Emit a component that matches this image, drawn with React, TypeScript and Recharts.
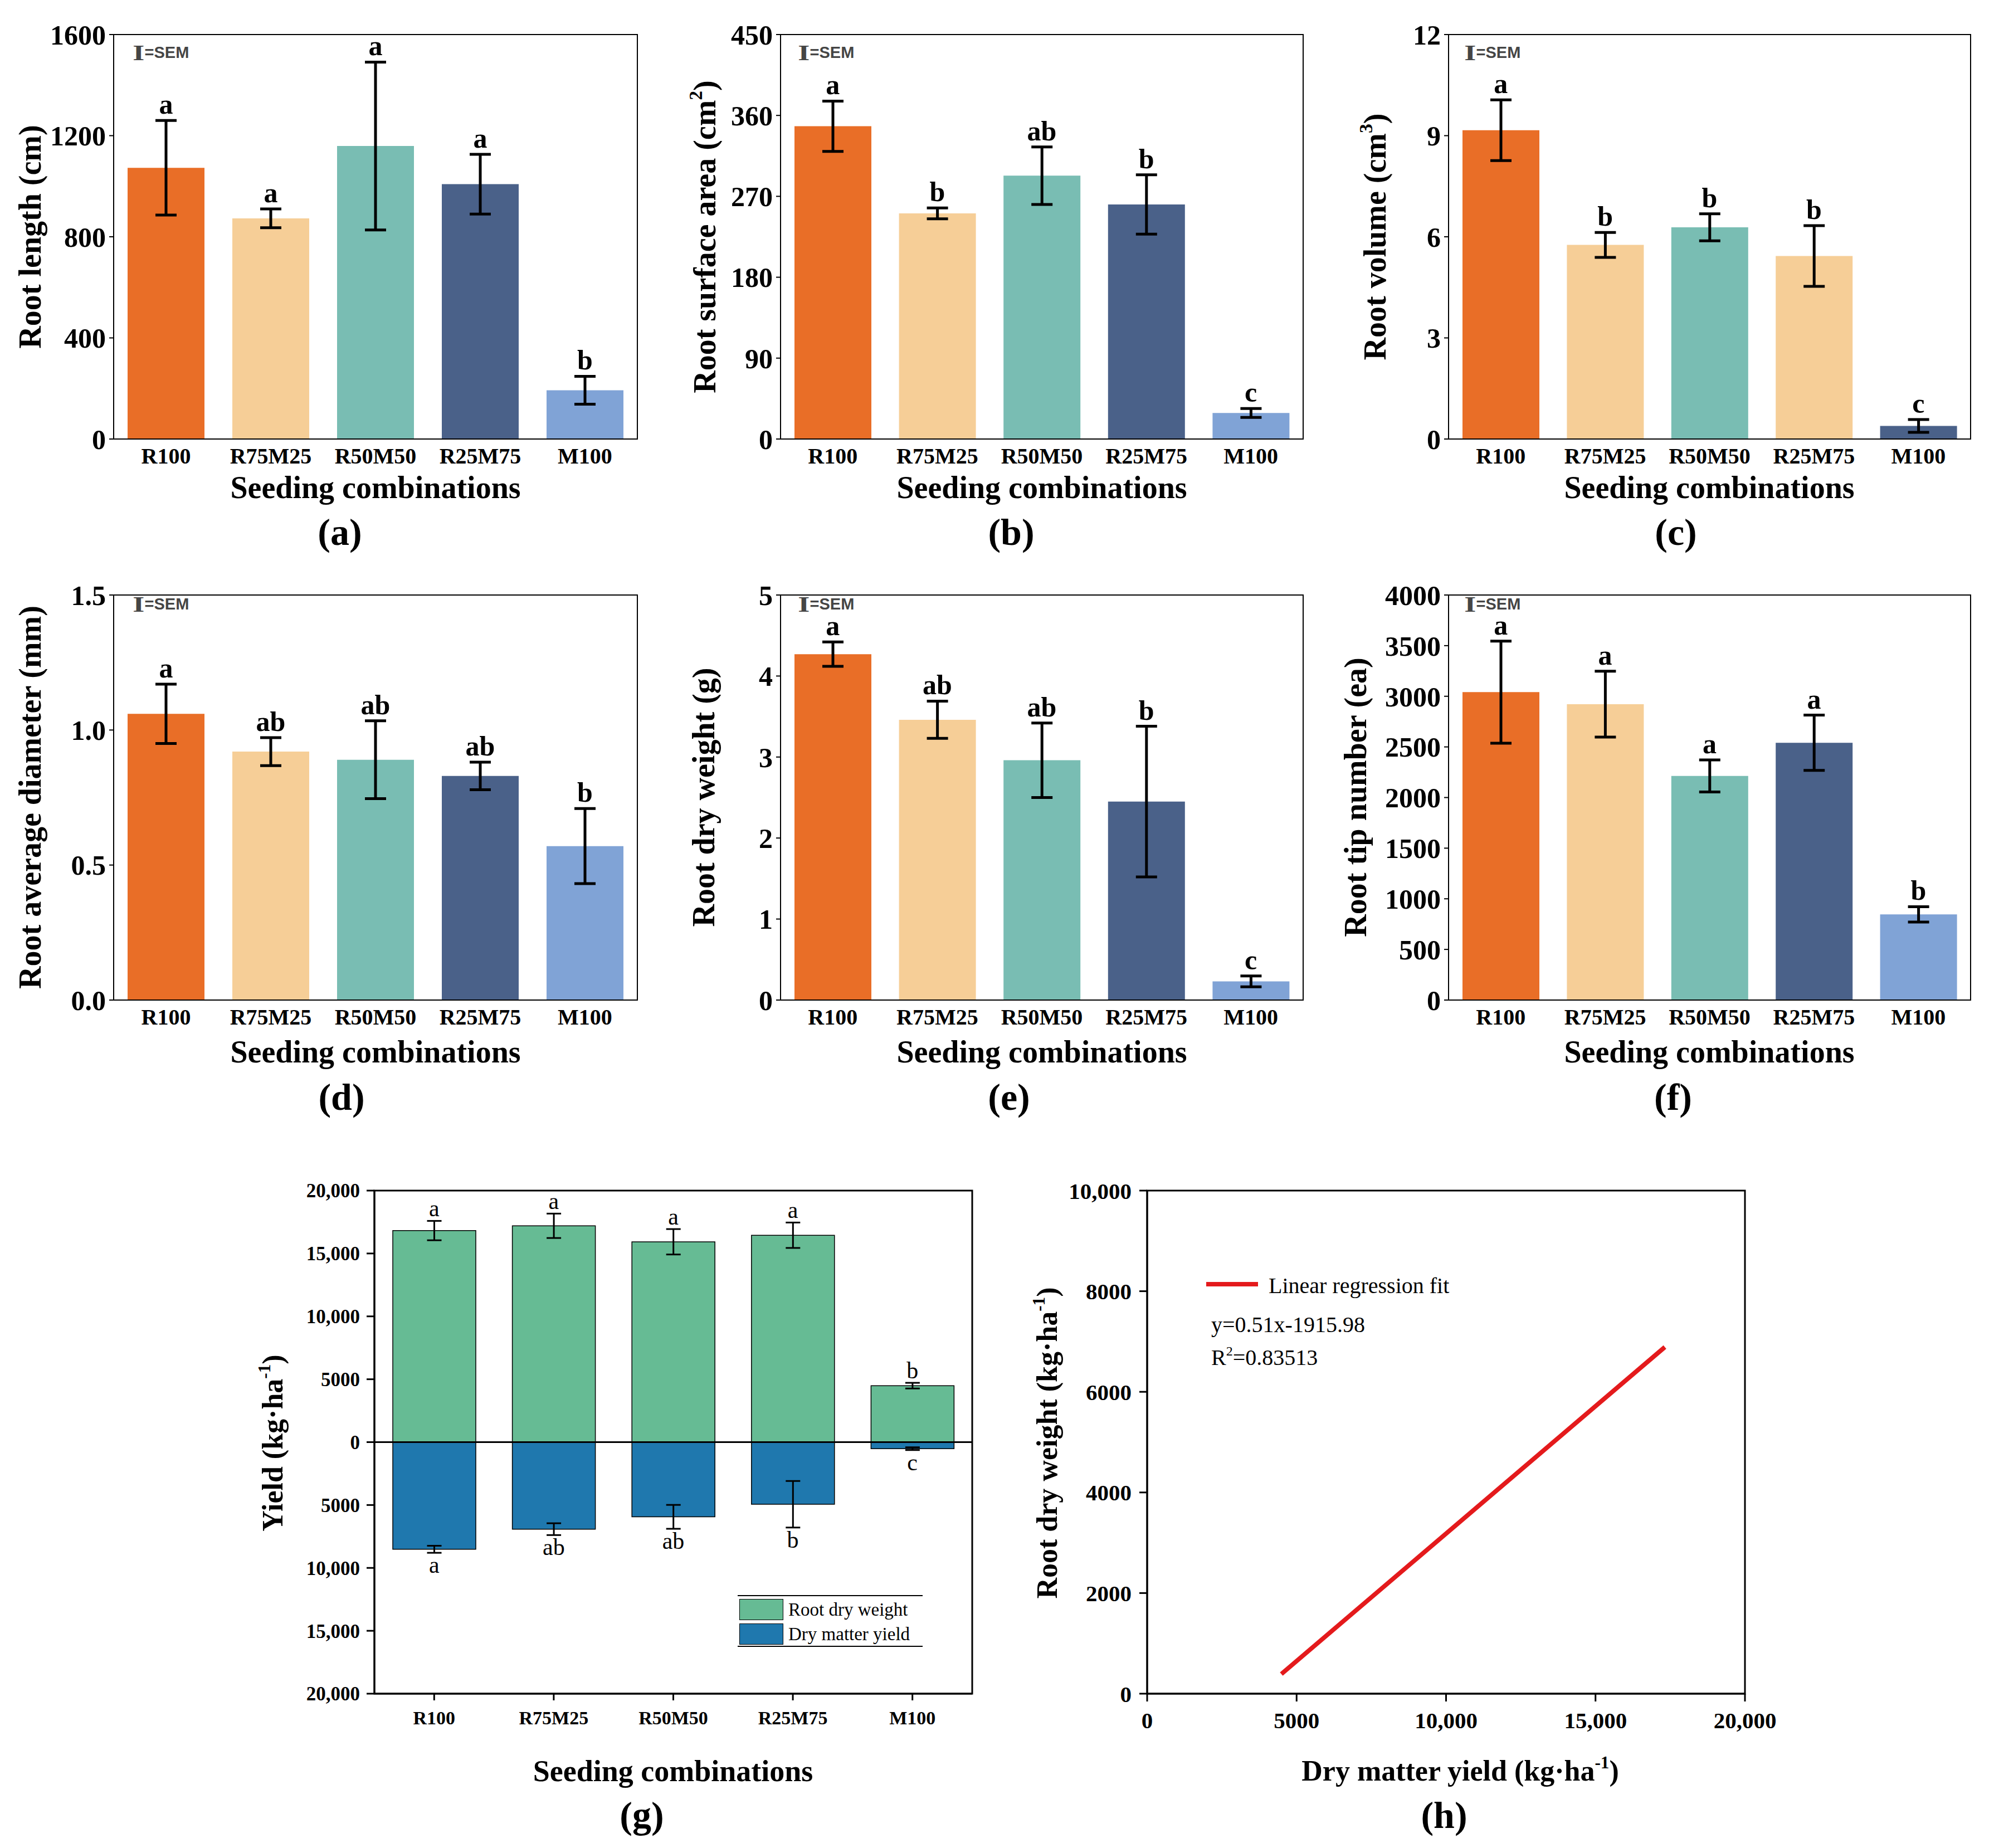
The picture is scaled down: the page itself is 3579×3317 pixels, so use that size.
import React from 'react';
import {
  ComposedChart,
  LineChart,
  Bar,
  Line,
  XAxis,
  YAxis,
  ErrorBar,
  Cell,
  LabelList,
  ReferenceArea,
  ReferenceLine,
} from 'recharts';

const SERIF = '"Liberation Serif", "Times New Roman", Times, serif';
const SANS = '"Liberation Sans", Arial, sans-serif';

// seeding combinations shared by every panel
const categories = ['R100', 'R75M25', 'R50M50', 'R25M75', 'M100'];

// (a) root length
const lengthMean = [1073, 873, 1159, 1008, 193];
const lengthSem = [187, 37, 332, 118, 55];
const lengthLetters = ['a', 'a', 'a', 'a', 'b'];
const lengthTicks = [0, 400, 800, 1200, 1600];

// (b) root surface area
const areaMean = [348, 251, 293, 261, 29];
const areaSem = [28, 6, 32, 33, 5];
const areaLetters = ['a', 'b', 'ab', 'b', 'c'];
const areaTicks = [0, 90, 180, 270, 360, 450];

// (c) root volume
const volumeMean = [9.16, 5.76, 6.28, 5.43, 0.39];
const volumeSem = [0.9, 0.37, 0.4, 0.9, 0.19];
const volumeLetters = ['a', 'b', 'b', 'b', 'c'];
const volumeTicks = [0, 3, 6, 9, 12];

// (d) root average diameter
const diameterMean = [1.06, 0.92, 0.89, 0.83, 0.57];
const diameterSem = [0.11, 0.052, 0.144, 0.051, 0.139];
const diameterLetters = ['a', 'ab', 'ab', 'ab', 'b'];
const diameterTicks = [0, 0.5, 1.0, 1.5];

// (e) root dry weight
const dryWeightMean = [4.27, 3.46, 2.96, 2.45, 0.23];
const dryWeightSem = [0.15, 0.23, 0.46, 0.93, 0.067];
const dryWeightLetters = ['a', 'ab', 'ab', 'b', 'c'];
const dryWeightTicks = [0, 1, 2, 3, 4, 5];

// (f) root tip number
const tipMean = [3041, 2922, 2213, 2541, 846];
const tipSem = [504, 325, 158, 273, 76];
const tipLetters = ['a', 'a', 'a', 'a', 'b'];
const tipTicks = [0, 500, 1000, 1500, 2000, 2500, 3000, 3500, 4000];

// (g) yield, up = root dry weight, down = dry matter yield
const yieldRoot = [16820, 17200, 15930, 16450, 4490];
const yieldRootSem = [770, 970, 1010, 1010, 225];
const yieldRootLetters = ['a', 'a', 'a', 'a', 'b'];
const yieldDm = [8520, 6920, 5940, 4940, 520];
const yieldDmSem = [280, 470, 950, 1850, 110];
const yieldDmLetters = ['a', 'ab', 'ab', 'b', 'c'];
const yieldTicks = [-20000, -15000, -10000, -5000, 0, 5000, 10000, 15000, 20000];

// (h) regression line end points
const fitX = [4490, 17320];
const fitY = [390, 6890];
const fitXTicks = [0, 5000, 10000, 15000, 20000];
const fitYTicks = [0, 2000, 4000, 6000, 8000, 10000];

const mainColors = ['#E96E27', '#F6CE97', '#79BDB3', '#4A6189', '#80A3D6'];
const volumeColors = ['#E96E27', '#F6CE97', '#79BDB3', '#F6CE97', '#4A6189'];

const makeRows = (mean: number[], sem: number[], letters: string[]) =>
  categories.map((name, i) => ({
    name,
    value: mean[i],
    sem: sem[i],
    letter: letters[i],
    top: mean[i] + sem[i],
  }));

const yieldRows = categories.map((name, i) => ({
  name,
  root: yieldRoot[i],
  rootSem: yieldRootSem[i],
  rootLetter: yieldRootLetters[i],
  rootTop: yieldRoot[i] + yieldRootSem[i],
  dm: -yieldDm[i],
  dmSem: yieldDmSem[i],
  dmLetter: yieldDmLetters[i],
  dmBottom: -(yieldDm[i] + yieldDmSem[i]),
}));

const fitRows = fitX.map((x, i) => ({ x, y: fitY[i] }));

const comma = (v: number) => String(v).replace(/\B(?=(\d{3})+(?!\d))/g, ',');
const bigComma = (v: number) => (Math.abs(v) >= 10000 ? comma(Math.abs(v)) : String(Math.abs(v)));

function Txt({ x, y, size, weight = 'bold', rotate = false, left = false, children }: any) {
  const shift = left ? 'translate(0,-50%)' : 'translate(-50%,-50%)';
  return (
    <div
      style={{
        position: 'absolute',
        left: x,
        top: y,
        transform: shift + (rotate ? ' rotate(-90deg)' : ''),
        fontFamily: SERIF,
        fontSize: size,
        fontWeight: weight,
        lineHeight: 1,
        whiteSpace: 'nowrap',
        color: '#000',
      }}
    >
      {children}
    </div>
  );
}

const Sup = ({ children }: any) => (
  <sup style={{ fontSize: '0.6em', lineHeight: 0, verticalAlign: '0.7em' }}>{children}</sup>
);

// the "I=SEM" key in the top left corner of the first six panels
function SemKey({ x, y }: any) {
  return (
    <div
      style={{
        position: 'absolute',
        left: x,
        top: y,
        transform: 'translateY(-50%)',
        display: 'flex',
        alignItems: 'center',
        color: '#454545',
        lineHeight: 0.8,
        fontWeight: 'bold',
      }}
    >
      <span style={{ fontFamily: SERIF, fontSize: 40, transform: 'scaleX(1.35)', display: 'inline-block', marginRight: 3 }}>I</span>
      <span style={{ fontFamily: SANS, fontSize: 29 }}>=SEM</span>
    </div>
  );
}

const PAD_L = 200;
const PAD_T = 40;
const PAD_B = 90;
const PAD_R = 20;

function BarPanel({ x, y, w, h, rows, colors, ticks, fmt }: any) {
  const lo = ticks[0];
  const hi = ticks[ticks.length - 1];
  return (
    <div style={{ position: 'absolute', left: x - PAD_L, top: y - PAD_T }}>
      <ComposedChart
        width={w + PAD_L + PAD_R}
        height={h + PAD_T + PAD_B}
        data={rows}
        margin={{ top: PAD_T, right: PAD_R, bottom: 0, left: 0 }}
        barSize={138}
      >
        <XAxis
          dataKey="name"
          height={PAD_B}
          interval={0}
          tickLine={false}
          tickSize={6}
          tickMargin={10}
          axisLine={{ stroke: '#000', strokeWidth: 2 }}
          tick={{ fill: '#000', fontSize: 40, fontWeight: 'bold', fontFamily: SERIF }}
        />
        <YAxis
          width={PAD_L}
          domain={[lo, hi]}
          ticks={ticks}
          interval={0}
          tickFormatter={fmt}
          tickSize={8}
          tickMargin={6}
          axisLine={{ stroke: '#000', strokeWidth: 2 }}
          tickLine={{ stroke: '#000', strokeWidth: 2 }}
          tick={{ fill: '#000', fontSize: 50, fontWeight: 'bold', fontFamily: SERIF }}
        />
        <ReferenceArea y1={lo} y2={hi} fill="none" stroke="#000" strokeWidth={2} />
        <Bar dataKey="value" isAnimationActive={false}>
          {rows.map((r: any, i: number) => (
            <Cell key={r.name} fill={colors[i]} />
          ))}
          <ErrorBar dataKey="sem" width={19} stroke="#000" strokeWidth={5} direction="y" />
        </Bar>
        <Line
          dataKey="top"
          stroke="none"
          dot={false}
          activeDot={false}
          legendType="none"
          isAnimationActive={false}
        >
          <LabelList
            dataKey="letter"
            position="top"
            offset={12}
            fill="#000"
            fontSize={50}
            fontWeight="bold"
            fontFamily={SERIF}
          />
        </Line>
      </ComposedChart>
    </div>
  );
}

function YieldPanel({ x, y, w, h }: any) {
  const padB = 100;
  return (
    <div style={{ position: 'absolute', left: x - PAD_L, top: y - PAD_T }}>
      <ComposedChart
        width={w + PAD_L + PAD_R}
        height={h + PAD_T + padB}
        data={yieldRows}
        stackOffset="sign"
        barSize={149}
        margin={{ top: PAD_T, right: PAD_R, bottom: 0, left: 0 }}
      >
        <XAxis
          dataKey="name"
          height={padB}
          interval={0}
          tickSize={12}
          tickMargin={19}
          axisLine={{ stroke: '#000', strokeWidth: 3 }}
          tickLine={{ stroke: '#000', strokeWidth: 3 }}
          tick={{ fill: '#000', fontSize: 34, fontWeight: 'bold', fontFamily: SERIF }}
        />
        <YAxis
          width={PAD_L}
          domain={[-20000, 20000]}
          ticks={yieldTicks}
          interval={0}
          tickFormatter={bigComma}
          tickSize={14}
          tickMargin={12}
          axisLine={{ stroke: '#000', strokeWidth: 3 }}
          tickLine={{ stroke: '#000', strokeWidth: 3 }}
          tick={{ fill: '#000', fontSize: 35, fontWeight: 'bold', fontFamily: SERIF }}
        />
        <ReferenceArea y1={-20000} y2={20000} fill="none" stroke="#000" strokeWidth={3} />
        <Bar dataKey="root" stackId="y" fill="#66BB94" stroke="#000" strokeWidth={1.5} isAnimationActive={false}>
          <ErrorBar dataKey="rootSem" width={13} stroke="#000" strokeWidth={3} direction="y" />
        </Bar>
        <Bar dataKey="dm" stackId="y" fill="#1F78AE" stroke="#000" strokeWidth={1.5} isAnimationActive={false}>
          <ErrorBar dataKey="dmSem" width={13} stroke="#000" strokeWidth={3} direction="y" />
        </Bar>
        <ReferenceLine y={0} stroke="#000" strokeWidth={3} />
        <Line dataKey="rootTop" stroke="none" dot={false} activeDot={false} legendType="none" isAnimationActive={false}>
          <LabelList dataKey="rootLetter" position="top" offset={8} fill="#000" fontSize={42} fontFamily={SERIF} />
        </Line>
        <Line dataKey="dmBottom" stroke="none" dot={false} activeDot={false} legendType="none" isAnimationActive={false}>
          <LabelList dataKey="dmLetter" position="bottom" offset={6} fill="#000" fontSize={42} fontFamily={SERIF} />
        </Line>
      </ComposedChart>
    </div>
  );
}

function FitPanel({ x, y, w, h }: any) {
  const padB = 100;
  const padR = 80;
  return (
    <div style={{ position: 'absolute', left: x - PAD_L, top: y - PAD_T }}>
      <LineChart
        width={w + PAD_L + padR}
        height={h + PAD_T + padB}
        data={fitRows}
        margin={{ top: PAD_T, right: padR, bottom: 0, left: 0 }}
      >
        <XAxis
          type="number"
          dataKey="x"
          domain={[0, 20000]}
          ticks={fitXTicks}
          interval={0}
          tickFormatter={bigComma}
          height={padB}
          tickSize={14}
          tickMargin={19}
          axisLine={{ stroke: '#000', strokeWidth: 3 }}
          tickLine={{ stroke: '#000', strokeWidth: 3 }}
          tick={{ fill: '#000', fontSize: 41, fontWeight: 'bold', fontFamily: SERIF }}
        />
        <YAxis
          type="number"
          width={PAD_L}
          domain={[0, 10000]}
          ticks={fitYTicks}
          interval={0}
          tickFormatter={bigComma}
          tickSize={14}
          tickMargin={14}
          axisLine={{ stroke: '#000', strokeWidth: 3 }}
          tickLine={{ stroke: '#000', strokeWidth: 3 }}
          tick={{ fill: '#000', fontSize: 41, fontWeight: 'bold', fontFamily: SERIF }}
        />
        <ReferenceArea x1={0} x2={20000} y1={0} y2={10000} fill="none" stroke="#000" strokeWidth={3} />
        <Line dataKey="y" stroke="#E41A1C" strokeWidth={8} dot={false} activeDot={false} isAnimationActive={false} />
      </LineChart>
    </div>
  );
}

const ROW1 = { y: 62, h: 726 };
const ROW2 = { y: 1068, h: 727 };

export default function App() {
  return (
    <div style={{ position: 'relative', width: 3579, height: 3317, background: '#fff', overflow: 'hidden' }}>
      <style>{'body{margin:0;background:#fff}'}</style>

      {/* row 1 */}
      <BarPanel x={204} y={ROW1.y} w={940} h={ROW1.h} rows={makeRows(lengthMean, lengthSem, lengthLetters)} colors={mainColors} ticks={lengthTicks} fmt={String} />
      <BarPanel x={1401} y={ROW1.y} w={938} h={ROW1.h} rows={makeRows(areaMean, areaSem, areaLetters)} colors={mainColors} ticks={areaTicks} fmt={String} />
      <BarPanel x={2600} y={ROW1.y} w={937} h={ROW1.h} rows={makeRows(volumeMean, volumeSem, volumeLetters)} colors={volumeColors} ticks={volumeTicks} fmt={String} />

      <SemKey x={241} y={95} />
      <SemKey x={1435} y={95} />
      <SemKey x={2631} y={95} />

      <Txt x={54} y={425} size={56} rotate>Root length (cm)</Txt>
      <Txt x={1265} y={425} size={56} rotate>Root surface area (cm<Sup>2</Sup>)</Txt>
      <Txt x={2468} y={425} size={56} rotate>Root volume (cm<Sup>3</Sup>)</Txt>

      <Txt x={674} y={875} size={56}>Seeding combinations</Txt>
      <Txt x={1870} y={875} size={56}>Seeding combinations</Txt>
      <Txt x={3068} y={875} size={56}>Seeding combinations</Txt>

      <Txt x={610} y={955} size={68}>(a)</Txt>
      <Txt x={1815} y={955} size={68}>(b)</Txt>
      <Txt x={3008} y={955} size={68}>(c)</Txt>

      {/* row 2 */}
      <BarPanel x={204} y={ROW2.y} w={940} h={ROW2.h} rows={makeRows(diameterMean, diameterSem, diameterLetters)} colors={mainColors} ticks={diameterTicks} fmt={(v: number) => v.toFixed(1)} />
      <BarPanel x={1401} y={ROW2.y} w={938} h={ROW2.h} rows={makeRows(dryWeightMean, dryWeightSem, dryWeightLetters)} colors={mainColors} ticks={dryWeightTicks} fmt={String} />
      <BarPanel x={2600} y={ROW2.y} w={937} h={ROW2.h} rows={makeRows(tipMean, tipSem, tipLetters)} colors={mainColors} ticks={tipTicks} fmt={String} />

      <SemKey x={241} y={1085} />
      <SemKey x={1435} y={1085} />
      <SemKey x={2631} y={1085} />

      <Txt x={54} y={1431} size={56} rotate>Root average diameter (mm)</Txt>
      <Txt x={1263} y={1431} size={56} rotate>Root dry weight (g)</Txt>
      <Txt x={2433} y={1431} size={56} rotate>Root tip number (ea)</Txt>

      <Txt x={674} y={1888} size={56}>Seeding combinations</Txt>
      <Txt x={1870} y={1888} size={56}>Seeding combinations</Txt>
      <Txt x={3068} y={1888} size={56}>Seeding combinations</Txt>

      <Txt x={613} y={1969} size={68}>(d)</Txt>
      <Txt x={1811} y={1969} size={68}>(e)</Txt>
      <Txt x={3003} y={1969} size={68}>(f)</Txt>

      {/* row 3 */}
      <YieldPanel x={672} y={2137} w={1073} h={903} />
      <FitPanel x={2059} y={2137} w={1073} h={903} />

      <div
        style={{
          position: 'absolute',
          left: 1324,
          top: 2863,
          width: 332,
          height: 93,
          borderTop: '2px solid #000',
          borderBottom: '2px solid #000',
          boxSizing: 'border-box',
          fontFamily: SERIF,
          fontSize: 33,
          color: '#000',
        }}
      >
        {[
          { c: '#66BB94', t: 'Root dry weight' },
          { c: '#1F78AE', t: 'Dry matter yield' },
        ].map((it, i) => (
          <div key={it.t} style={{ position: 'absolute', left: 3, top: 5 + i * 44, display: 'flex', alignItems: 'center', lineHeight: 1 }}>
            <div style={{ width: 79, height: 38, background: it.c, border: '1.5px solid #000', boxSizing: 'border-box', marginRight: 9 }} />
            <span>{it.t}</span>
          </div>
        ))}
      </div>

      <Txt x={490} y={2590} size={52} rotate>Yield (kg·ha<Sup>-1</Sup>)</Txt>
      <Txt x={1208} y={3179} size={54}>Seeding combinations</Txt>
      <Txt x={1152} y={3258} size={68}>(g)</Txt>

      <div style={{ position: 'absolute', left: 2165, top: 2301, width: 93, height: 8, background: '#E41A1C' }} />
      <Txt x={2277} y={2308} size={40} weight="normal" left>Linear regression fit</Txt>
      <Txt x={2174} y={2378} size={40} weight="normal" left>y=0.51x-1915.98</Txt>
      <Txt x={2174} y={2437} size={40} weight="normal" left>R<Sup>2</Sup>=0.83513</Txt>

      <Txt x={1880} y={2590} size={52} rotate>Root dry weight (kg·ha<Sup>-1</Sup>)</Txt>
      <Txt x={2621} y={3179} size={52}>Dry matter yield (kg·ha<Sup>-1</Sup>)</Txt>
      <Txt x={2592} y={3258} size={68}>(h)</Txt>
    </div>
  );
}
